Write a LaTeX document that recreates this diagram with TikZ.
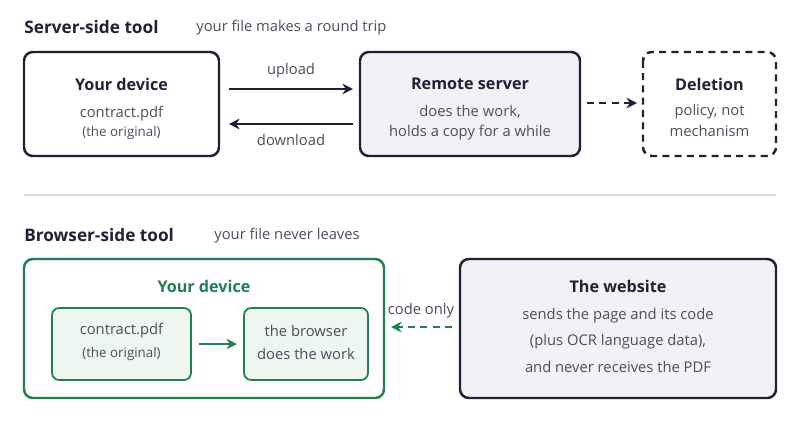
\documentclass[tikz,border=0pt]{standalone}
\usepackage{fontspec}
\setmainfont{Open Sans}
\usetikzlibrary{arrows.meta,positioning}
\definecolor{ink}{HTML}{1F2233}
\definecolor{muted}{HTML}{4A4D5C}
\definecolor{boxgray}{HTML}{F2F2F6}
\definecolor{grn}{HTML}{1F7F4F}
\definecolor{grnfill}{HTML}{EEF6F1}
\definecolor{rule}{HTML}{DADADD}
\tikzset{
  box/.style = {draw=ink, line width=1.4pt, rounded corners=5pt},
  head/.style = {font=\fontsize{9.8}{11}\selectfont\bfseries, text=ink, anchor=west, inner sep=0pt},
  sub/.style = {font=\fontsize{8.4}{10}\selectfont, text=muted, anchor=west, inner sep=0pt},
  bt/.style = {font=\fontsize{9.2}{11}\selectfont\bfseries, text=ink},
  tx/.style = {font=\fontsize{8.4}{10}\selectfont, text=muted},
  sm/.style = {font=\fontsize{7.6}{9}\selectfont, text=muted},
  arr/.style = {-{Stealth[length=6pt,width=6pt]}, line width=1.3pt, draw=ink},
}
\begin{document}
\begin{tikzpicture}[x=0.02cm, y=-0.02cm]
	\useasboundingbox (0,0) rectangle (800,430);
	% server-side
	\node[head] (h1) at (24,27) {Server-side tool};
	\node[sub] (s1) at (196,28) {your file makes a round trip};
	
	\draw[box] (24,52) rectangle (219,156);
	\node[bt] (dev) at (121.5,84) {Your device};
	\node[tx] (pdf) at (121.5,114) {contract.pdf};
	\node[sm] (orig) at (121.5,133) {(the original)};
	
	\draw[box, fill=boxgray] (360,52) rectangle (580,156);
	\node[bt] (srv) at (470,84) {Remote server};
	\node[tx] (srv1) at (470,112) {does the work,};
	\node[tx] (srv2) at (470,133) {holds a copy for a while};
	
	\draw[box, dashed, dash pattern=on 4pt off 3pt] (643,52) rectangle (776,156);
	\node[bt] (del) at (709.5,84) {Deletion};
	\node[tx] (del1) at (709.5,112) {policy, not};
	\node[tx] (del2) at (709.5,131) {mechanism};
	
	\coordinate (upA) at (229,89);  \coordinate (upB) at (353,89);
	\coordinate (dnA) at (353,124); \coordinate (dnB) at (229,124);
	\coordinate (dlA) at (587,103); \coordinate (dlB) at (637,103);
	\draw[arr] (upA) -- node[tx, above=2pt] {upload} (upB);
	\draw[arr] (dnA) -- node[tx, below=2pt] {download} (dnB);
	\draw[arr, dashed, dash pattern=on 4pt off 3pt] (dlA) -- (dlB);
	
	\draw[rule, line width=1pt] (24,195) -- (776,195);
	
	% browser-side
	\node[head] (h2) at (24,235) {Browser-side tool};
	\node[sub] (s2) at (214,236) {your file never leaves};
	
	\draw[box, draw=grn] (24,259) rectangle (384,398);
	\node[bt, text=grn] (gdev) at (204,286) {Your device};
	\draw[draw=grn, fill=grnfill, line width=1pt, rounded corners=4pt] (52,308) rectangle (191,380);
	\node[tx] (gpdf) at (121.5,331) {contract.pdf};
	\node[sm] (gorig) at (121.5,354) {(the original)};
	\draw[draw=grn, fill=grnfill, line width=1pt, rounded corners=4pt] (244,308) rectangle (368,380);
	\node[tx] (br1) at (306,331) {the browser};
	\node[tx] (br2) at (306,354) {does the work};
	\coordinate (gA) at (199,344); \coordinate (gB) at (237,344);
	\draw[arr, draw=grn] (gA) -- (gB);
	
	\draw[box, fill=boxgray] (460,259) rectangle (776,398);
	\node[bt] (web) at (618,286) {The website};
	\node[tx] (web1) at (618,316) {sends the page and its code};
	\node[tx] (web2) at (618,342) {(plus OCR language data),};
	\node[tx] (web3) at (618,367) {and never receives the PDF};
	
	\coordinate (cA) at (452,327); \coordinate (cB) at (391,327);
	\draw[arr, draw=grn, dashed, dash pattern=on 4pt off 3pt] (cA) -- (cB);
	\node[tx] (code) at (421,311) {code only};
\end{tikzpicture}
\end{document}
